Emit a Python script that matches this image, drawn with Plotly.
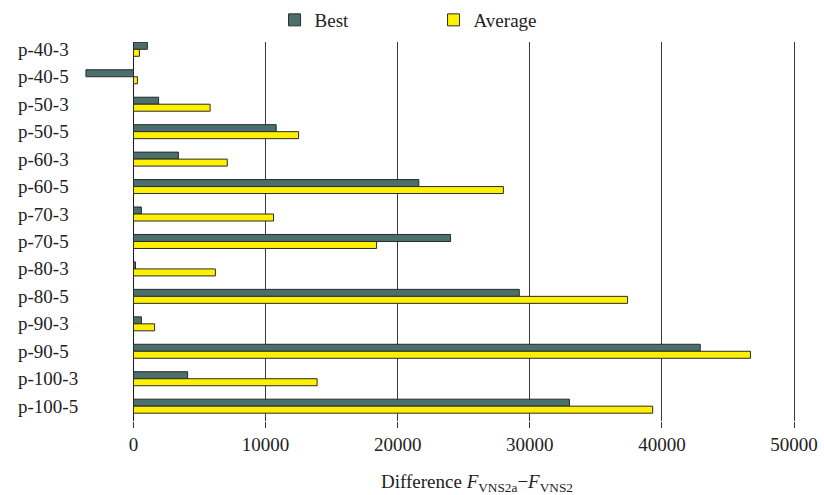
import plotly.graph_objects as go

# Instance names, top to bottom
instances = ["p-40-3", "p-40-5", "p-50-3", "p-50-5", "p-60-3", "p-60-5", "p-70-3",
             "p-70-5", "p-80-3", "p-80-5", "p-90-3", "p-90-5", "p-100-3", "p-100-5"]

# Difference F_VNS2a - F_VNS2 per instance
best = [1050, -3600, 1900, 10800, 3400, 21600, 600,
        24000, 150, 29200, 600, 42900, 4100, 33000]
average = [450, 300, 5800, 12500, 7100, 28000, 10600,
           18400, 6200, 37400, 1600, 46700, 13900, 39300]

x_ticks = [0, 10000, 20000, 30000, 40000, 50000]
x_tick_labels = ["0", "10000", "20000", "30000", "40000", "50000"]

FONT = "Liberation Serif"
BEST_COLOR = "#4A6F6C"
AVG_COLOR = "#FFF000"
EDGE = "#2A2A2A"
TEXT = "#222222"

fig = go.Figure()
fig.add_trace(go.Bar(
    y=instances, x=best, orientation="h", name="Best",
    marker=dict(color=BEST_COLOR, line=dict(color=EDGE, width=1)),
))
fig.add_trace(go.Bar(
    y=instances, x=average, orientation="h", name="Average",
    marker=dict(color=AVG_COLOR, line=dict(color=EDGE, width=1)),
))

# Left-aligned instance labels
for name in instances:
    fig.add_annotation(
        x=-0.086, xref="paper", y=name, yref="y", text=name,
        xanchor="left", yanchor="middle", showarrow=False,
        font=dict(family=FONT, size=19, color=TEXT),
    )

# Axis title with italic F and subscripts
fig.add_annotation(
    x=0.554, xref="paper", y=-0.163, yref="paper",
    text="Difference <i>F</i><sub>VNS2a</sub>\u2212<i>F</i><sub>VNS2</sub>",
    xanchor="center", yanchor="middle", showarrow=False,
    font=dict(family=FONT, size=19, color=TEXT),
)

fig.update_layout(
    width=824, height=495,
    margin=dict(l=78, r=26, t=42, b=74, autoexpand=False),
    paper_bgcolor="white", plot_bgcolor="white",
    barmode="group", bargap=0.49, bargroupgap=0,
    font=dict(family=FONT, size=19, color=TEXT),
    showlegend=True,
    legend=dict(
        orientation="h", x=0.273, y=1.058, xanchor="left", yanchor="middle",
        entrywidth=114, entrywidthmode="pixels",
        font=dict(family=FONT, size=19, color=TEXT),
        bgcolor="rgba(0,0,0,0)",
    ),
    xaxis=dict(
        range=[-4200, 50300], tickvals=x_ticks, ticktext=x_tick_labels,
        showgrid=True, gridcolor="#3A3A3A", gridwidth=1,
        zeroline=True, zerolinecolor="#1A1A1A", zerolinewidth=1,
        ticks="outside", ticklen=6, tickcolor="#333333",
        showline=False,
        tickfont=dict(family=FONT, size=19, color=TEXT),
    ),
    yaxis=dict(
        type="category", categoryorder="array", categoryarray=instances,
        range=[13.54, -0.266], showticklabels=False,
        showgrid=False, zeroline=False, showline=False, ticks="",
    ),
)

fig.write_html("out.html")
